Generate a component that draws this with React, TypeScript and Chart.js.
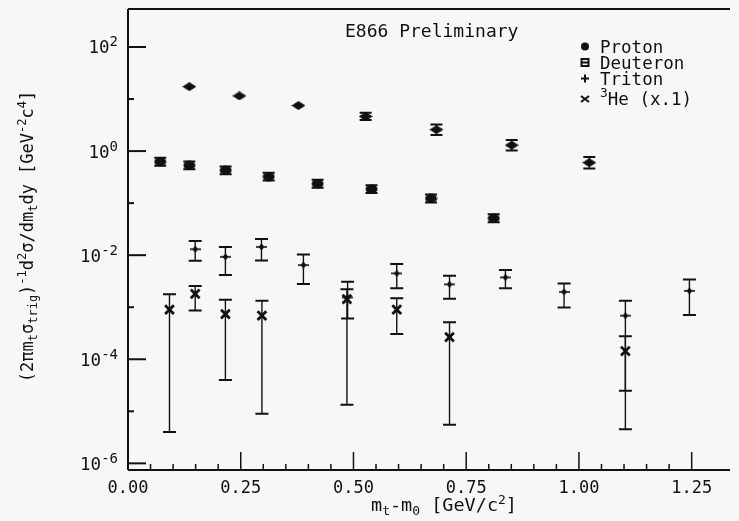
import { useEffect, useRef } from 'react';
import { Chart, registerables } from 'chart.js';

Chart.register(...registerables);

const FONT = '"DejaVu Sans Mono", monospace';
const INK = '#111111';
const BG = '#f7f7f7';

// ---- data ----
const protonX = [0.136, 0.247, 0.378, 0.527, 0.684, 0.851, 1.023];
const protonY = [17.3, 11.5, 7.5, 4.64, 2.58, 1.3, 0.6];
const protonLo = [null, null, null, 3.95, 2.04, 1.03, 0.465];
const protonHi = [null, null, null, 5.46, 3.25, 1.64, 0.771];

const deuteronX = [0.0715, 0.136, 0.2165, 0.312, 0.4205, 0.54, 0.672, 0.811];
const deuteronY = [0.625, 0.532, 0.426, 0.323, 0.235, 0.186, 0.123, 0.051];
const deuteronLo = [0.525, 0.447, 0.358, 0.271, 0.197, 0.156, 0.103, 0.043];
const deuteronHi = [0.744, 0.633, 0.507, 0.384, 0.28, 0.221, 0.146, 0.061];

const tritonX = [0.149, 0.216, 0.296, 0.389, 0.487, 0.596, 0.713, 0.837, 0.967, 1.103, 1.245];
const tritonY = [0.013, 0.00929, 0.0144, 0.00645, 0.00154, 0.00446, 0.00275, 0.00374, 0.00197, 0.000689, 0.00206];
const tritonHi = [0.0187, 0.0144, 0.0204, 0.01026, 0.0031, 0.00674, 0.00403, 0.00518, 0.00284, 0.00133, 0.00339];
const tritonLo = [0.00779, 0.00416, 0.00789, 0.0028, 0.000604, 0.00231, 0.00145, 0.00231, 0.000991, 0.0000249, 0.000707];

const heX = [0.092, 0.149, 0.216, 0.297, 0.4855, 0.596, 0.713, 1.103];
const heY = [0.000896, 0.00181, 0.000739, 0.000689, 0.00143, 0.000896, 0.000266, 0.000144];
const heHi = [0.00178, 0.00257, 0.00139, 0.00133, 0.00221, 0.00149, 0.000513, 0.000278];
const heLo = [0.000004, 0.000869, 0.0000398, 0.00000895, 0.0000133, 0.000307, 0.00000553, 0.0000045];

// ---- axes ----
const xMin = 0;
const xMax = 1.335;
const xMinorStep = 0.05;
const xMajorStep = 0.25;
const yMin = 7.45e-7;
const yMax = 537;
const yTickExponents = [-6, -5, -4, -3, -2, -1, 0, 1, 2];
const yLabelExponents = [-6, -4, -2, 0, 2];

type Seg = { t: string; k?: 'sub' | 'sup' };
const titleText = 'E866 Preliminary';
const yTitle: Seg[] = [
  { t: '(2πm' }, { t: 't', k: 'sub' }, { t: 'σ' }, { t: 'trig', k: 'sub' }, { t: ')' },
  { t: '-1', k: 'sup' }, { t: 'd' }, { t: '2', k: 'sup' }, { t: 'σ/dm' }, { t: 't', k: 'sub' },
  { t: 'dy [GeV' }, { t: '-2', k: 'sup' }, { t: 'c' }, { t: '4', k: 'sup' }, { t: ']' },
];
const xTitle: Seg[] = [
  { t: 'm' }, { t: 't', k: 'sub' }, { t: '-m' }, { t: '0', k: 'sub' }, { t: ' [GeV/c' }, { t: '2', k: 'sup' }, { t: ']' },
];
const legendRows: { marker: string; segs: Seg[] }[] = [
  { marker: 'circle', segs: [{ t: 'Proton' }] },
  { marker: 'square', segs: [{ t: 'Deuteron' }] },
  { marker: 'plus', segs: [{ t: 'Triton' }] },
  { marker: 'x', segs: [{ t: '3', k: 'sup' }, { t: 'He (x.1)' }] },
];

function segsWidth(ctx: CanvasRenderingContext2D, segs: Seg[], size: number, small: number) {
  let w = 0;
  for (const s of segs) {
    ctx.font = `${s.k ? small : size}px ${FONT}`;
    w += ctx.measureText(s.t).width;
  }
  return w;
}

function drawSegs(ctx: CanvasRenderingContext2D, segs: Seg[], x: number, y: number, size: number, small: number, subDy: number, supDy: number) {
  let cx = x;
  for (const s of segs) {
    ctx.font = `${s.k ? small : size}px ${FONT}`;
    const dy = s.k === 'sub' ? subDy : s.k === 'sup' ? -supDy : 0;
    ctx.fillText(s.t, cx, y + dy);
    cx += ctx.measureText(s.t).width;
  }
  return cx - x;
}

function makeImg(w: number, h: number, draw: (g: CanvasRenderingContext2D) => void) {
  const c = document.createElement('canvas');
  c.width = w;
  c.height = h;
  const g = c.getContext('2d')!;
  g.fillStyle = INK;
  g.strokeStyle = INK;
  draw(g);
  return c;
}

const errorBars = {
  id: 'errorBars',
  beforeDatasetsDraw(chart: any) {
    const { ctx } = chart;
    const xs = chart.scales.x;
    const ys = chart.scales.y;
    chart.data.datasets.forEach((ds: any) => {
      if (!ds.errLo) return;
      ds.data.forEach((p: any, i: number) => {
        const lo = ds.errLo[i];
        const hi = ds.errHi[i];
        if (lo == null || hi == null) return;
        const px = xs.getPixelForValue(p.x);
        const y1 = ys.getPixelForValue(hi);
        const y2 = ys.getPixelForValue(lo);
        ctx.save();
        ctx.strokeStyle = INK;
        ctx.lineWidth = 1.4;
        ctx.beginPath();
        ctx.moveTo(px, y1);
        ctx.lineTo(px, y2);
        ctx.stroke();
        ctx.lineWidth = 2;
        ctx.beginPath();
        ctx.moveTo(px - ds.capHalf, y1);
        ctx.lineTo(px + ds.capHalf, y1);
        ctx.moveTo(px - ds.capHalf, y2);
        ctx.lineTo(px + ds.capHalf, y2);
        ctx.stroke();
        ctx.restore();
      });
    });
  },
};

const frame = {
  id: 'frame',
  afterDraw(chart: any) {
    const { ctx, chartArea: a } = chart;
    const xs = chart.scales.x;
    const ys = chart.scales.y;
    ctx.save();
    ctx.strokeStyle = INK;
    ctx.fillStyle = INK;
    // frame lines
    ctx.lineWidth = 2;
    ctx.beginPath();
    ctx.moveTo(a.left, a.top);
    ctx.lineTo(a.right, a.top);
    ctx.moveTo(a.left, a.top);
    ctx.lineTo(a.left, a.bottom);
    ctx.moveTo(a.left, a.bottom);
    ctx.lineTo(a.right, a.bottom);
    ctx.stroke();
    // x ticks (inward)
    ctx.lineWidth = 1.5;
    xs.ticks.forEach((t: any) => {
      const v = t.value;
      const m = v / xMinorStep;
      if (Math.abs(m - Math.round(m)) > 1e-6) return;
      const M = v / xMajorStep;
      const major = Math.abs(M - Math.round(M)) < 1e-6;
      const px = xs.getPixelForValue(v);
      ctx.beginPath();
      ctx.moveTo(px, a.bottom);
      ctx.lineTo(px, a.bottom - (major ? 18 : 6));
      ctx.stroke();
    });
    // y ticks (inward) and labels
    ctx.lineWidth = 2;
    yTickExponents.forEach((e) => {
      const py = ys.getPixelForValue(Math.pow(10, e));
      const major = yLabelExponents.includes(e);
      ctx.beginPath();
      ctx.moveTo(a.left, py);
      ctx.lineTo(a.left + (major ? 18 : 6), py);
      ctx.stroke();
    });
    ctx.textBaseline = 'alphabetic';
    ctx.textAlign = 'left';
    yLabelExponents.forEach((e) => {
      const py = ys.getPixelForValue(Math.pow(10, e));
      const segs: Seg[] = [{ t: '10' }, { t: String(e), k: 'sup' }];
      const w = segsWidth(ctx, segs, 17.5, 14);
      drawSegs(ctx, segs, 118 - w, py + 6.5, 17.5, 14, 0, 7);
    });
    // title
    ctx.font = `18px ${FONT}`;
    ctx.fillText(titleText, 345, 37);
    // legend
    const lx = 585;
    const baselines = [52.5, 68.5, 84.5, 105];
    legendRows.forEach((r, i) => {
      const by = baselines[i];
      const cy = by - 6;
      ctx.lineWidth = 2;
      if (r.marker === 'circle') {
        ctx.beginPath();
        ctx.arc(lx, cy, 4, 0, Math.PI * 2);
        ctx.fill();
      } else if (r.marker === 'square') {
        ctx.strokeRect(lx - 3.5, cy - 3.5, 7, 7);
        ctx.beginPath();
        ctx.moveTo(lx - 3.5, cy);
        ctx.lineTo(lx + 3.5, cy);
        ctx.stroke();
      } else if (r.marker === 'plus') {
        ctx.beginPath();
        ctx.moveTo(lx - 4, cy);
        ctx.lineTo(lx + 4, cy);
        ctx.moveTo(lx, cy - 4);
        ctx.lineTo(lx, cy + 4);
        ctx.stroke();
      } else {
        ctx.beginPath();
        ctx.moveTo(lx - 4, cy - 3);
        ctx.lineTo(lx + 4, cy + 3);
        ctx.moveTo(lx - 4, cy + 3);
        ctx.lineTo(lx + 4, cy - 3);
        ctx.stroke();
      }
      drawSegs(ctx, r.segs, 600, by, 17.5, 13, 0, 8);
    });
    // x title
    const xw = segsWidth(ctx, xTitle, 18.5, 13);
    drawSegs(ctx, xTitle, 444 - xw / 2, 511, 18.5, 13, 4, 7);
    // y title (rotated)
    const yw = segsWidth(ctx, yTitle, 17, 12);
    ctx.translate(33, 236.5 + yw / 2);
    ctx.rotate(-Math.PI / 2);
    drawSegs(ctx, yTitle, 0, 0, 17, 12, 4, 7);
    ctx.restore();
  },
};

export default function App() {
  const ref = useRef<HTMLCanvasElement>(null);
  useEffect(() => {
    const diamond = makeImg(14, 9, (g) => {
      g.beginPath();
      g.moveTo(7, 0);
      g.lineTo(14, 4.5);
      g.lineTo(7, 9);
      g.lineTo(0, 4.5);
      g.closePath();
      g.fill();
    });
    const blob = makeImg(13, 10, (g) => {
      g.beginPath();
      g.ellipse(6.5, 5, 6, 4.6, 0, 0, Math.PI * 2);
      g.fill();
    });
    const tri = makeImg(11, 8, (g) => {
      g.beginPath();
      g.moveTo(5.5, 0.5);
      g.lineTo(8.5, 4);
      g.lineTo(5.5, 7.5);
      g.lineTo(2.5, 4);
      g.closePath();
      g.fill();
      g.fillRect(0, 3.2, 11, 1.6);
    });
    const toPts = (xs: number[], ys: number[]) => xs.map((x, i) => ({ x, y: ys[i] }));
    const chart = new Chart(ref.current!, {
      type: 'scatter',
      data: {
        datasets: [
          { label: 'Proton', data: toPts(protonX, protonY), pointStyle: diamond as any, pointRadius: 6, errLo: protonLo, errHi: protonHi, capHalf: 6 } as any,
          { label: 'Deuteron', data: toPts(deuteronX, deuteronY), pointStyle: blob as any, pointRadius: 6, errLo: deuteronLo, errHi: deuteronHi, capHalf: 6 } as any,
          { label: 'Triton', data: toPts(tritonX, tritonY), pointStyle: tri as any, pointRadius: 5, errLo: tritonLo, errHi: tritonHi, capHalf: 6.5 } as any,
          { label: '3He (x.1)', data: toPts(heX, heY), pointStyle: 'crossRot', pointRadius: 6.2, borderWidth: 2.8, borderColor: INK, backgroundColor: INK, errLo: heLo, errHi: heHi, capHalf: 6.5 } as any,
        ],
      },
      options: {
        responsive: false,
        animation: false,
        devicePixelRatio: 1,
        events: [],
        layout: { padding: { left: 0, right: 1, top: 5, bottom: 0 } },
        plugins: { legend: { display: false }, tooltip: { enabled: false } },
        scales: {
          x: {
            type: 'linear',
            min: xMin,
            max: xMax,
            afterFit: (s: any) => { s.height = 51; },
            grid: { display: false, drawTicks: false },
            border: { display: false },
            ticks: {
              stepSize: xMinorStep,
              autoSkip: false,
              maxRotation: 0,
              padding: 8,
              color: INK,
              font: { family: FONT, size: 17 },
              callback: (v: any) => {
                const M = Number(v) / xMajorStep;
                return Math.abs(M - Math.round(M)) < 1e-6 ? Number(v).toFixed(2) : '';
              },
            },
          },
          y: {
            type: 'logarithmic',
            min: yMin,
            max: yMax,
            afterFit: (s: any) => { s.width = 128; },
            grid: { display: false, drawTicks: false },
            border: { display: false },
            ticks: { display: false },
          },
        },
      },
      plugins: [errorBars, frame],
    });
    return () => chart.destroy();
  }, []);
  return (
    <div style={{ position: 'fixed', left: 0, top: 0, width: 739, height: 521, background: BG }}>
      <canvas ref={ref} width={739} height={521} style={{ width: 739, height: 521, display: 'block' }} />
    </div>
  );
}
